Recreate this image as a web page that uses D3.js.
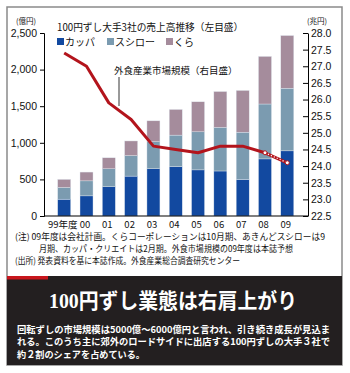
<!DOCTYPE html>
<html>
<head>
<meta charset="utf-8">
<script src="https://cdn.jsdelivr.net/npm/d3@7"></script>
<style>
  body { margin: 0; background: #fff; }
  svg { display: block; }
</style>
</head>
<body>
<div id="chart"></div>
<script>

// Data
const years = ["99年度", "00", "01", "02", "03", "04", "05", "06", "07", "08", "09"]
const kappa = [230, 275, 400, 545, 645, 675, 630, 615, 500, 780, 890]
const sushiro = [160, 205, 245, 280, 370, 430, 520, 595, 645, 750, 855]
const kura = [110, 120, 150, 200, 285, 350, 410, 490, 570, 650, 720]
const market = [27.4, 27.0, 25.9, 25.4, 24.6, 24.5, 24.4, 24.6, 24.6, 24.4, 24.1]
const leftTicks = [0, 500, 1000, 1500, 2000, 2500]
const rightTicks = [22.5, 23.0, 23.5, 24.0, 24.5, 25.0, 25.5, 26.0, 26.5, 27.0, 27.5, 28.0]
const seriesNames = ["カッパ", "スシロー", "くら"]
const colors = ["#1249a0", "#7b9bb0", "#a58c9c"]

const jp = "'Noto Sans CJK JP', sans-serif"
const num = "'Liberation Sans', Arial, sans-serif"

const svg = d3.select("#chart")
    .append("svg")
    .attr("width", 350)
    .attr("height", 373)

// Frame
svg.append("rect")
    .attr("x", 7).attr("y", 7)
    .attr("width", 335).attr("height", 358)
    .attr("fill", "#fff")
    .attr("stroke", "#8a8a8a")
    .attr("stroke-width", 1.5)

// Scales
let x = d3.scalePoint()
    .domain(years)
    .range([64.2, 287.3])

let yLeft = d3.scaleLinear()
    .domain([0, 2500])
    .range([216, 33])

let yRight = d3.scaleLinear()
    .domain([22.5, 28])
    .range([216, 33])

const barWidth = 13

// Stacked bars
const table = years.map((y, i) => ({year: y, "カッパ": kappa[i], "スシロー": sushiro[i], "くら": kura[i]}))
const stack = d3.stack().keys(seriesNames)(table)

svg.append("g")
    .selectAll("g")
    .data(stack)
    .enter()
    .append("g")
    .attr("fill", (d, i) => colors[i])
    .selectAll("rect")
    .data(d => d)
    .enter()
    .append("rect")
    .attr("x", d => x(d.data.year) - barWidth / 2)
    .attr("y", d => yLeft(d[1]))
    .attr("width", barWidth)
    .attr("height", d => yLeft(d[0]) - yLeft(d[1]))
    .attr("stroke", "#dfe6ee")
    .attr("stroke-width", 0.4)

// Left axis
const leftAxis = svg.append("g")
    .attr("transform", "translate(44,0)")
    .call(d3.axisLeft(yLeft).tickValues(leftTicks).tickSize(4).tickPadding(3).tickFormat(d3.format(",")))
leftAxis.select(".domain").attr("stroke", "#000").attr("stroke-width", 1)
leftAxis.selectAll("text").style("font-family", num).style("font-size", "10.5px").attr("fill", "#111")

// Right axis
const rightAxis = svg.append("g")
    .attr("transform", "translate(308,0)")
    .call(d3.axisRight(yRight).tickValues(rightTicks).tickSize(0).tickPadding(3).tickFormat(d3.format(".1f")))
rightAxis.select(".domain").attr("stroke", "#000").attr("stroke-width", 1)
rightAxis.selectAll(".tick line").attr("x1", -5).attr("x2", 0).attr("stroke", "#000")
rightAxis.selectAll("text").style("font-family", num).style("font-size", "10.5px").attr("fill", "#111")

// Bottom axis
const bottomAxis = svg.append("g")
    .attr("transform", "translate(0,216)")
    .call(d3.axisBottom(x).tickSize(0).tickPadding(5))
bottomAxis.select(".domain").attr("d", "M44,0H308").attr("stroke", "#000").attr("stroke-width", 1.2)
bottomAxis.selectAll("text")
    .attr("dx", -2)
    .style("font-family", jp)
    .style("font-size", "9.5px")
    .attr("fill", "#111")

// Units
svg.append("text").attr("x", 16).attr("y", 24)
    .text("(億円)").style("font-family", jp).style("font-size", "7.5px").attr("fill", "#111")
svg.append("text").attr("x", 307).attr("y", 24)
    .text("(兆円)").style("font-family", jp).style("font-size", "7.5px").attr("fill", "#111")

// Market line
const line = d3.line()
    .x((d, i) => x(years[i]))
    .y(d => yRight(d))

svg.append("path")
    .datum(market.slice(0, 10))
    .attr("d", line)
    .attr("fill", "none")
    .attr("stroke", "#b3141c")
    .attr("stroke-width", 3)
    .attr("stroke-linejoin", "round")

// Forecast segment (dotted)
const last = [[x(years[9]), yRight(market[9])], [x(years[10]), yRight(market[10])]]
svg.append("path")
    .attr("d", d3.line()(last))
    .attr("stroke", "#b3141c")
    .attr("stroke-width", 3)
svg.append("path")
    .attr("d", d3.line()(last))
    .attr("stroke", "#fff")
    .attr("stroke-width", 1.2)
    .attr("stroke-dasharray", "1.2,2")
svg.selectAll(".end")
    .data(last)
    .enter()
    .append("circle")
    .attr("cx", d => d[0])
    .attr("cy", d => d[1])
    .attr("r", 2)
    .attr("fill", "#fff")
    .attr("stroke", "#b3141c")
    .attr("stroke-width", 1)

// Legend
svg.append("text").attr("x", 57).attr("y", 31)
    .text("100円ずし大手3社の売上高推移（左目盛）")
    .style("font-family", jp).style("font-size", "9.7px").attr("fill", "#111")

const legendX = [57, 107, 166]
seriesNames.forEach((name, i) => {
    svg.append("rect")
        .attr("x", legendX[i]).attr("y", 38)
        .attr("width", 7).attr("height", 7)
        .attr("fill", colors[i])
    svg.append("text")
        .attr("x", legendX[i] + 8).attr("y", 45.5)
        .text(name)
        .style("font-family", jp).style("font-size", "10px").attr("fill", "#111")
})

// Annotation
svg.append("text").attr("x", 114).attr("y", 74)
    .text("外食産業市場規模（右目盛）")
    .style("font-family", jp).style("font-size", "9.5px").attr("fill", "#111")
svg.append("line")
    .attr("x1", 119).attr("x2", 119)
    .attr("y1", 77).attr("y2", 106)
    .attr("stroke", "#000").attr("stroke-width", 0.8)

// Notes
const notes = [
    {t: "(注) 09年度は会社計画。くらコーポレーションは10月期、あきんどスシローは9", x: 15, y: 240, w: 310},
    {t: "月期、カッパ・クリエイトは2月期。外食市場規模の09年度は本誌予想", x: 39, y: 251.5, w: 254},
    {t: "(出所) 発表資料を基に本誌作成。外食産業総合調査研究センター", x: 15, y: 264, w: 225}
]
svg.selectAll(".note")
    .data(notes)
    .enter()
    .append("text")
    .attr("x", d => d.x)
    .attr("y", d => d.y)
    .attr("textLength", d => d.w)
    .attr("lengthAdjust", "spacingAndGlyphs")
    .text(d => d.t)
    .style("font-family", jp).style("font-size", "8.6px").attr("fill", "#111")

// Dark box
svg.append("rect")
    .attr("x", 7).attr("y", 276)
    .attr("width", 335).attr("height", 89)
    .attr("fill", "#231f20")
svg.append("rect")
    .attr("x", 7).attr("y", 276)
    .attr("width", 41).attr("height", 3.5)
    .attr("fill", "#c8161d")

svg.append("text")
    .attr("x", 49).attr("y", 308)
    .attr("textLength", 248)
    .attr("lengthAdjust", "spacingAndGlyphs")
    .text("100円ずし業態は右肩上がり")
    .style("font-family", "'Liberation Serif', 'Noto Sans CJK JP', serif")
    .style("font-size", "21px")
    .style("font-weight", "bold")
    .attr("fill", "#fff")

const body = [
    {t: "回転ずしの市場規模は5000億～6000億円と言われ、引き続き成長が見込ま", y: 332.5, w: 313},
    {t: "れる。このうち主に郊外のロードサイドに出店する100円ずしの大手３社で", y: 345, w: 313},
    {t: "約２割のシェアを占めている。", y: 357.5, w: 128}
]
svg.selectAll(".body")
    .data(body)
    .enter()
    .append("text")
    .attr("x", 17)
    .attr("y", d => d.y)
    .attr("textLength", d => d.w)
    .attr("lengthAdjust", "spacingAndGlyphs")
    .text(d => d.t)
    .style("font-family", jp).style("font-size", "9.5px").style("font-weight", "bold")
    .attr("fill", "#fff")

</script>
</body>
</html>
